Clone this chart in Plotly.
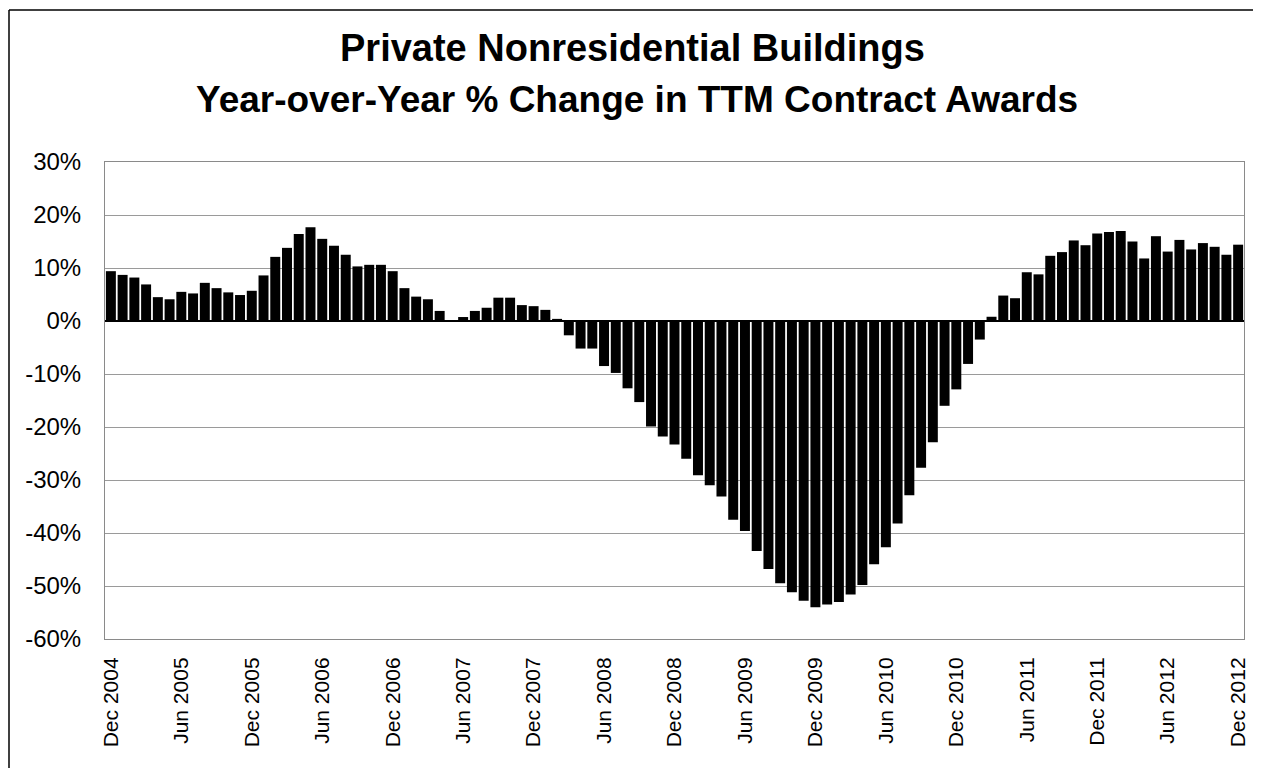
import pandas as pd
import plotly.graph_objects as go

# monthly categories, Dec 2004 .. Dec 2012
months = [d.strftime("%b %Y") for d in pd.date_range("2004-12-01", "2012-12-01", freq="MS")]

# YoY % change in TTM contract awards
yoy_pct = [
    9.4, 8.7, 8.2, 6.9, 4.5, 4.1, 5.5, 5.2, 7.2, 6.2, 5.4, 4.9,          # Dec04-Nov05
    5.7, 8.6, 12.1, 13.8, 16.4, 17.7, 15.5, 14.2, 12.5, 10.3, 10.6, 10.6,  # Dec05-Nov06
    9.4, 6.2, 4.6, 4.1, 1.9, 0.0, 0.75, 1.9, 2.5, 4.4, 4.4, 3.0,          # Dec06-Nov07
    2.8, 2.1, 0.4, -2.7, -5.2, -5.2, -8.5, -9.8, -12.7, -15.3, -19.9, -21.8,  # Dec07-Nov08
    -23.3, -26.0, -29.1, -31.0, -33.1, -37.5, -39.6, -43.4, -46.8, -49.5, -51.2, -52.8,  # Dec08-Nov09
    -54.0, -53.5, -53.0, -51.6, -49.8, -45.9, -42.7, -38.2, -32.9, -27.7, -22.9, -16.0,  # Dec09-Nov10
    -12.9, -8.1, -3.5, 0.8, 4.8, 4.3, 9.2, 8.8, 12.3, 13.0, 15.2, 14.3,   # Dec10-Nov11
    16.5, 16.8, 17.0, 15.0, 11.8, 16.0, 13.1, 15.3, 13.5, 14.7, 14.0, 12.5,  # Dec11-Nov12
    14.4,                                                                  # Dec12
]

x_ticks = months[::6]
y_ticks = [30, 20, 10, 0, -10, -20, -30, -40, -50, -60]
y_ticktext = [f"{v}%" for v in y_ticks]

title_1 = "Private Nonresidential Buildings"
title_2 = "Year-over-Year % Change in TTM Contract Awards"

FONT = "Liberation Sans, Arial, sans-serif"

fig = go.Figure(go.Bar(
    x=months, y=yoy_pct,
    marker=dict(color="black", line_width=0),
))

# page body has an 8px margin, so the figure is drawn 8px in and 8px down.
# target plot area on screen: x 105..1244, y 162..639
OFF = 8
FW, FH = 1261 - OFF, 768 - OFF
L, R, T, B = 105 - OFF, 17, 162 - OFF, 129
W, H = FW - L - R, FH - T - B

def px_x(sx):
    return (sx - 105) / W

def px_y(sy):
    return (639 - sy) / H

fig.update_layout(
    width=FW, height=FH,
    margin=dict(l=L, r=R, t=T, b=B),
    paper_bgcolor="white", plot_bgcolor="white",
    font=dict(family=FONT, color="black"),
    bargap=0.15,
    showlegend=False,
)

fig.update_xaxes(
    type="category",
    tickmode="array", tickvals=x_ticks, ticktext=x_ticks,
    tickangle=-90, tickfont=dict(size=21),
    ticks="", ticklabelstandoff=9,
    showgrid=False,
    showline=True, linecolor="#8a8a8a", linewidth=1, mirror=True,
)

fig.update_yaxes(
    range=[-60, 30],
    tickmode="array", tickvals=y_ticks, ticktext=y_ticktext,
    tickfont=dict(size=24),
    ticks="", ticklabelstandoff=18,
    showgrid=True, gridcolor="#9a9a9a", gridwidth=1,
    zeroline=True, zerolinecolor="black", zerolinewidth=1.5,
    showline=True, linecolor="#8a8a8a", linewidth=1, mirror=True,
)

# title lines
fig.add_annotation(text=f"<b>{title_1}</b>", xref="paper", yref="paper",
                   x=px_x(632), y=px_y(48), xanchor="center", yanchor="middle",
                   showarrow=False, font=dict(size=38, family=FONT))
fig.add_annotation(text=f"<b>{title_2}</b>", xref="paper", yref="paper",
                   x=px_x(637), y=px_y(100), xanchor="center", yanchor="middle",
                   showarrow=False, font=dict(size=37, family=FONT))

# outer frame (left + top edges visible in the scan)
fig.add_shape(type="line", xref="paper", yref="paper",
              x0=px_x(9), x1=px_x(9), y0=px_y(10), y1=px_y(800),
              line=dict(color="black", width=1.5))
fig.add_shape(type="line", xref="paper", yref="paper",
              x0=px_x(9), x1=px_x(1300), y0=px_y(10), y1=px_y(10),
              line=dict(color="black", width=1.5))

fig.write_html("out.html")
